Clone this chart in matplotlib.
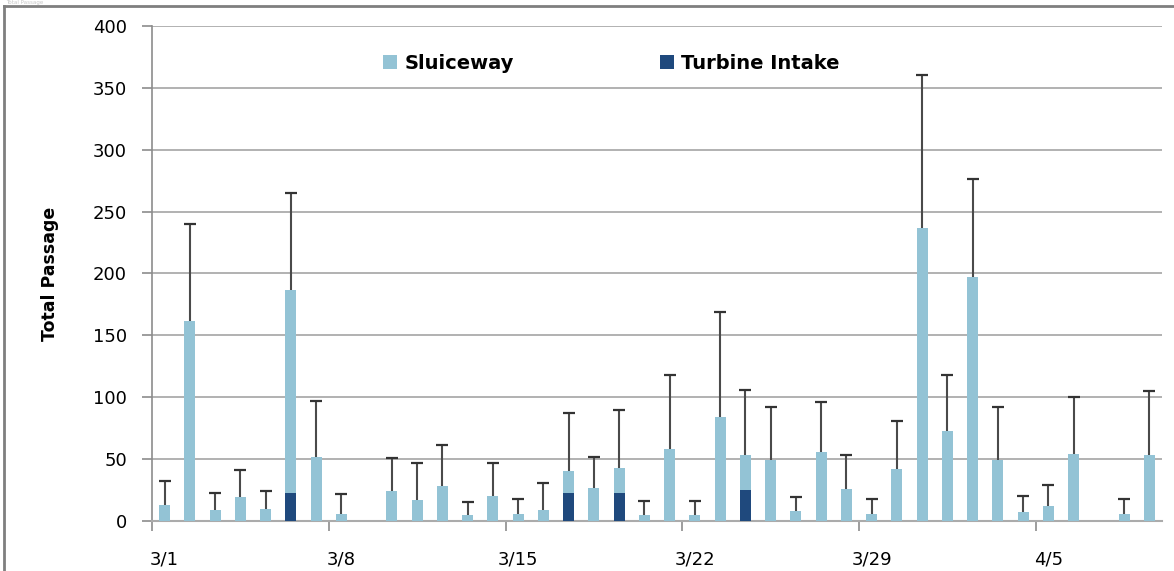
import numpy as np
import matplotlib
matplotlib.use('Agg')
import matplotlib.pyplot as plt
from matplotlib.lines import Line2D

plt.rcParams['font.family'] = ['DejaVu Sans']

# daily totals, 3/1 .. 4/9
days = ['3/%d' % d for d in range(1, 32)] + ['4/%d' % d for d in range(1, 10)]
total = [13, 162, 9, 19, 10, 187, 52, 6, 0, 24,
         17, 28, 5, 20, 6, 9, 40, 27, 43, 5,
         58, 5, 84, 53, 49, 8, 56, 26, 6, 42,
         237, 73, 197, 49, 7, 12, 54, 0, 6, 53]
turbine = [0, 0, 0, 0, 0, 23, 0, 0, 0, 0,
           0, 0, 0, 0, 0, 0, 23, 0, 23, 0,
           0, 0, 0, 25, 0, 0, 0, 0, 0, 0,
           0, 0, 0, 0, 0, 0, 0, 0, 0, 0]
upper = [32, 240, 23, 41, 24, 265, 97, 22, np.nan, 51,
         47, 61, 15, 47, 18, 31, 87, 52, 90, 16,
         118, 16, 169, 106, 92, 19, 96, 53, 18, 81,
         360, 118, 276, 92, 20, 29, 100, np.nan, 18, 105]
tick_labels = ['3/1', '3/8', '3/15', '3/22', '3/29', '4/5']

total = np.array(total, dtype=float)
turbine = np.array(turbine, dtype=float)
upper = np.array(upper, dtype=float)
sluice = total - turbine
x = np.arange(len(days))
has_bar = total > 0

fig = plt.figure(figsize=(11.74, 5.71), dpi=100)
ax = fig.add_axes([0.1295, 0.0876, 0.8603, 0.8669])

c_sluice = '#93c3d5'
c_turb = '#1f497d'
grid_c = '#ababab'
err_c = '#4a4a4a'

ax.bar(x, turbine, width=0.44, color=c_turb, label='Turbine Intake', zorder=3)
ax.bar(x, sluice, width=0.44, bottom=turbine, color=c_sluice, label='Sluiceway', zorder=3)

# upper error bars only (no cap at the bar end)
ax.vlines(x[has_bar], total[has_bar], upper[has_bar], color=err_c, linewidth=1.5, zorder=4)
ax.plot(x[has_bar], upper[has_bar], linestyle='none', marker='_', markersize=9,
        markeredgewidth=1.6, color='#333333', zorder=4)

ax.set_xlim(-0.5, len(days) - 0.5)
ax.set_ylim(0, 400)
ax.set_yticks(np.arange(0, 401, 50))
ax.yaxis.grid(True, color=grid_c, linewidth=1.3, zorder=0)
ax.set_axisbelow(True)

for s in ['top', 'right']:
    ax.spines[s].set_visible(False)
ax.spines['left'].set_color('#8c8c8c')
ax.spines['bottom'].set_color(grid_c)
ax.spines['left'].set_linewidth(1.2)
ax.spines['bottom'].set_linewidth(1.5)

label_pos = [days.index(t) for t in tick_labels]
ax.set_xticks(label_pos)
ax.set_xticklabels(tick_labels)
ax.set_xticks([p - 0.5 for p in label_pos], minor=True)
ax.tick_params(axis='x', which='major', length=0, pad=21, labelsize=13)
ax.tick_params(axis='x', which='minor', length=7, width=1.2, color='#8c8c8c', direction='out')
ax.tick_params(axis='y', length=7, width=1.2, color='#8c8c8c', pad=11, labelsize=13)

ax.set_ylabel('Total Passage', fontsize=12.5, fontweight='bold', labelpad=24)

handles, labels = ax.get_legend_handles_labels()
ax.legend(handles[::-1], labels[::-1], loc='center', bbox_to_anchor=(0.455, 0.925), ncol=2,
          frameon=False, handlelength=0.7, handleheight=0.7, handletextpad=0.4,
          columnspacing=7.5, prop={'weight': 'bold', 'size': 14})

# outer chart border
fig.add_artist(Line2D([4 / 1174, 1], [1 - 6 / 571, 1 - 6 / 571], transform=fig.transFigure,
                      color='#7f7f7f', linewidth=2))
fig.add_artist(Line2D([4 / 1174, 4 / 1174], [0, 1 - 6 / 571], transform=fig.transFigure,
                      color='#7f7f7f', linewidth=2))
fig.text(0.005, 1 - 2.5 / 571, 'Total Passage', fontsize=4, color='#c8c8c8', va='center', ha='left')

fig.savefig('out.png', dpi=100)
